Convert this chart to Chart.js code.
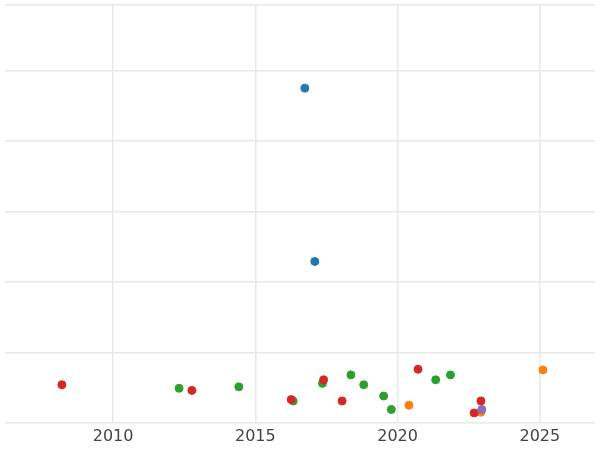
<!DOCTYPE html>
<html><head><script src="https://cdn.jsdelivr.net/npm/chart.js"></script>
<style>body{margin:0;overflow:hidden}#w{width:600px;height:450px}</style></head>
<body><div id="w"><canvas id="c"></canvas></div>
<script>
const blueX=[2016.74,2017.09], blueY=[4.75,2.29];
const redX=[2008.2,2012.77,2016.26,2017.4,2018.05,2020.72,2022.69,2022.93];
const redY=[0.54,0.46,0.33,0.61,0.31,0.76,0.14,0.31];
const greenX=[2012.32,2014.42,2016.33,2017.36,2018.36,2018.81,2019.51,2019.78,2021.34,2021.86];
const greenY=[0.49,0.51,0.31,0.56,0.68,0.54,0.38,0.19,0.61,0.68];
const orangeX=[2020.4,2022.93,2025.11], orangeY=[0.25,0.15,0.75];
const purpleX=[2022.96], purpleY=[0.19];
const pts=(xs,ys)=>xs.map((x,i)=>({x,y:ys[i]}));
const ds=(xs,ys,c)=>({data:pts(xs,ys),backgroundColor:c,borderColor:c,pointRadius:4,pointHoverRadius:4});
new Chart(document.getElementById('c'),{type:'scatter',
data:{datasets:[ds(purpleX,purpleY,'#9467bd'),ds(blueX,blueY,'#1f77b4'),ds(redX,redY,'#d62728'),ds(greenX,greenY,'#2ca02c'),ds(orangeX,orangeY,'#ff7f0e')]},
options:{responsive:true,maintainAspectRatio:false,animation:false,layout:{padding:{left:-6,right:-6,top:-6,bottom:0}},
plugins:{legend:{display:false},tooltip:{enabled:false}},
scales:{
x:{min:2006.2,max:2026.94,afterBuildTicks:s=>{s.ticks=[2010,2015,2020,2025].map(v=>({value:v}))},
 ticks:{color:'#444',font:{family:'DejaVu Sans',size:16},padding:4,callback:v=>String(v)},
 grid:{color:'#e8e8e8',lineWidth:1.5,drawTicks:false},border:{display:false}},
y:{min:0,max:5.93,ticks:{display:false,stepSize:1},afterFit:s=>{s.width=0},
 grid:{color:'#e8e8e8',lineWidth:1.5,drawTicks:false},border:{display:false}}}}});
</script></body></html>
